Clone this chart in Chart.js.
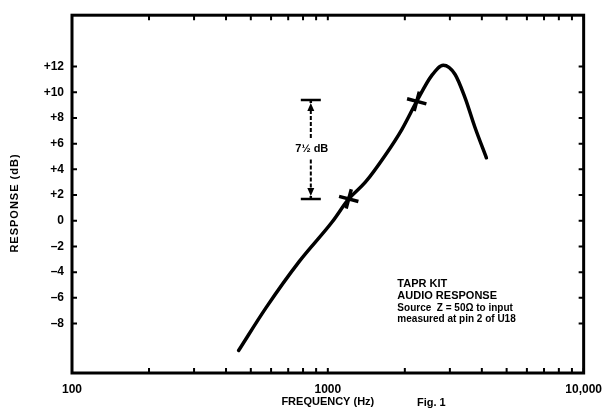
<!DOCTYPE html>
<html>
<head>
<meta charset="utf-8">
<script src="https://cdn.jsdelivr.net/npm/chart.js@4/dist/chart.umd.min.js"></script>
<style>
  html, body { margin: 0; padding: 0; background: #fff; }
  #wrap { width: 611px; height: 412px; position: relative; }
</style>
</head>
<body>
<div id="wrap"><canvas id="chartCanvas"></canvas></div>
<script>
// curve (frequency in Hz, response in dB)
const freqHz = [448, 572, 771, 1039, 1207, 1402, 1677, 1946, 2226, 2546, 2828, 3140, 3434, 3755, 4167];
const responseDb = [-10.1, -6.8, -3.2, -0.1, 1.7, 3.0, 5.1, 7.1, 9.3, 11.3, 12.1, 11.4, 9.6, 7.3, 4.9];

// the two cross marks on the curve
const markerHz = [1207, 2226];
const markerDb = [1.7, 9.3];

// axis ticks
const xTicks = [100, 200, 300, 400, 500, 600, 700, 800, 900,
                1000, 2000, 3000, 4000, 5000, 6000, 7000, 8000, 9000, 10000];
const xTickLabels = { 100: '100', 1000: '1000', 10000: '10,000' };
const yTicks = [-8, -6, -4, -2, 0, 2, 4, 6, 8, 10, 12];

// 7½ dB bracket and the note text
const bracketHz = 858;
const bracketDb = [1.7, 9.4];
const bracketLabel = '7½ dB';
const noteLines = ['TAPR KIT', 'AUDIO RESPONSE', 'Source  Z = 50Ω to input', 'measured at pin 2 of U18'];
const noteAt = [1870, -4.95];

const FONT = '"Liberation Sans", Arial, Helvetica, sans-serif';

const extras = {
  id: 'extras',
  afterDraw(chart) {
    const c = chart.ctx, a = chart.chartArea;
    const xs = chart.scales.x, ys = chart.scales.y;
    c.save();
    c.strokeStyle = '#000';
    c.fillStyle = '#000';

    // frame
    c.lineWidth = 3;
    c.strokeRect(a.left, a.top, a.right - a.left, a.bottom - a.top);

    // inward tick marks
    c.lineWidth = 2;
    c.beginPath();
    xTicks.forEach(v => {
      const px = xs.getPixelForValue(v);
      c.moveTo(px, a.bottom); c.lineTo(px, a.bottom - 5);
      c.moveTo(px, a.top); c.lineTo(px, a.top + 5);
    });
    yTicks.forEach(v => {
      const py = ys.getPixelForValue(v);
      c.moveTo(a.left, py); c.lineTo(a.left + 5, py);
      c.moveTo(a.right, py); c.lineTo(a.right - 5, py);
    });
    c.stroke();

    // bracket
    const bx = xs.getPixelForValue(bracketHz);
    const yLo = ys.getPixelForValue(bracketDb[0]);
    const yHi = ys.getPixelForValue(bracketDb[1]);
    const yMid = (yLo + yHi) / 2;
    c.lineWidth = 2.5;
    c.beginPath();
    c.moveTo(bx - 10, yHi); c.lineTo(bx + 10, yHi);
    c.moveTo(bx - 10, yLo); c.lineTo(bx + 10, yLo);
    c.moveTo(bx, yHi); c.lineTo(bx, yHi + 3);
    c.moveTo(bx, yLo); c.lineTo(bx, yLo - 3);
    c.stroke();
    c.lineWidth = 2;
    c.setLineDash([4, 2]);
    c.beginPath();
    c.moveTo(bx, yHi + 10); c.lineTo(bx, yMid - 10);
    c.moveTo(bx, yMid + 10); c.lineTo(bx, yLo - 10);
    c.stroke();
    c.setLineDash([]);
    c.beginPath();
    c.moveTo(bx, yHi + 3); c.lineTo(bx - 3.5, yHi + 11); c.lineTo(bx + 3.5, yHi + 11); c.closePath();
    c.moveTo(bx, yLo - 3); c.lineTo(bx - 3.5, yLo - 11); c.lineTo(bx + 3.5, yLo - 11); c.closePath();
    c.fill();
    c.font = 'bold 11px ' + FONT;
    c.textAlign = 'center';
    c.textBaseline = 'middle';
    c.fillText(bracketLabel, bx + 1, yMid);

    // note
    const nx = xs.getPixelForValue(noteAt[0]);
    let ny = ys.getPixelForValue(noteAt[1]);
    c.textAlign = 'left';
    noteLines.forEach((t, i) => {
      c.font = (i < 2 ? 'bold 11px ' : 'bold 10px ') + FONT;
      c.fillText(t, nx, ny);
      ny += i < 1 ? 12 : 11.5;
    });

    // y axis title
    c.save();
    c.translate(15, 203);
    c.rotate(-Math.PI / 2);
    c.font = 'bold 11px ' + FONT;
    c.letterSpacing = '1px';
    c.textAlign = 'center';
    c.fillText('RESPONSE (dB)', 0, 0);
    c.restore();

    // figure number
    c.font = 'bold 11px ' + FONT;
    c.textAlign = 'left';
    c.fillText('Fig. 1', 417, 403);
    c.restore();
  }
};

new Chart(document.getElementById('chartCanvas').getContext('2d'), {
  data: {
    datasets: [{
      type: 'line',
      data: freqHz.map((f, i) => ({ x: f, y: responseDb[i] })),
      borderColor: '#000',
      borderWidth: 3.5,
      borderCapStyle: 'round',
      cubicInterpolationMode: 'monotone',
      pointRadius: 0,
      fill: false
    }, {
      type: 'scatter',
      data: markerHz.map((f, i) => ({ x: f, y: markerDb[i] })),
      pointStyle: 'cross',
      pointRadius: 10,
      pointRotation: 15,
      borderColor: '#000',
      borderWidth: 3.5
    }]
  },
  options: {
    responsive: true,
    maintainAspectRatio: false,
    animation: false,
    layout: { padding: { left: 0, top: 11, right: 25, bottom: 0 } },
    plugins: { legend: { display: false }, tooltip: { enabled: false } },
    scales: {
      x: {
        type: 'logarithmic',
        min: 100,
        max: 10000,
        afterBuildTicks: s => { s.ticks = xTicks.map(v => ({ value: v })); },
        afterFit: s => { s.height = 39; },
        grid: { display: false, drawTicks: false },
        border: { display: false },
        ticks: {
          autoSkip: false, maxRotation: 0, padding: 9, color: '#000',
          font: { family: FONT, size: 12, weight: 'bold' },
          callback: v => xTickLabels[v] || ''
        },
        title: {
          display: true, text: 'FREQUENCY (Hz)', color: '#000',
          font: { family: FONT, size: 11, weight: 'bold' },
          padding: { top: 0, bottom: 3 }
        }
      },
      y: {
        type: 'linear',
        min: -11.85,
        max: 16,
        afterBuildTicks: s => { s.ticks = yTicks.map(v => ({ value: v })); },
        afterFit: s => { s.width = 72; },
        grid: { display: false, drawTicks: false },
        border: { display: false },
        ticks: {
          padding: 8, color: '#000',
          font: { family: FONT, size: 12, weight: 'bold' },
          callback: v => v > 0 ? '+' + v : (v < 0 ? '–' + Math.abs(v) : '0')
        }
      }
    }
  },
  plugins: [extras]
});
</script>
</body>
</html>
